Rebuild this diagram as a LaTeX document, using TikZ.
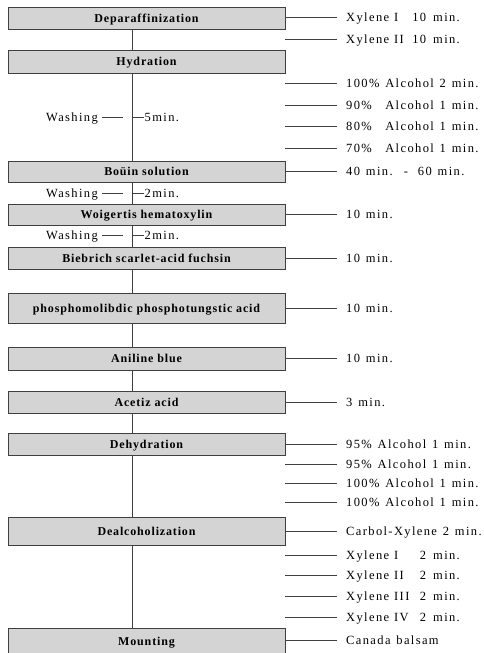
\documentclass[tikz,border=0pt]{standalone}
\usepackage{fontspec}
\setmainfont{Liberation Serif}
\newfontfamily\labfont[LetterSpace=11,WordSpace=1.3]{Liberation Serif}
\newfontfamily\hdfont[LetterSpace=7]{Liberation Serif}
\definecolor{boxgray}{RGB}{212,212,212}
\definecolor{linegray}{RGB}{64,64,64}
\newcommand\xyl[2]{Xylene\hspace{5pt}\makebox[22pt][l]{#1}\makebox[10pt][r]{#2}\hspace{7pt}min.}
\newcommand\pct[1]{\rlap{#1}\phantom{100\%}}
\begin{document}
\begin{tikzpicture}[x=1pt,y=-1pt,
  stepbox/.style={draw=linegray, fill=boxgray, line width=0.8pt, minimum width=277pt, inner sep=0pt,
    text height=8.2pt, text depth=0pt,
    font=\hdfont\bfseries\fontsize{12}{14}\selectfont},
  lab/.style={anchor=west, inner xsep=9pt, inner ysep=0pt, text height=8.4pt, text depth=0pt,
    font=\labfont\fontsize{12.5}{14}\selectfont},
  wlab/.style={inner xsep=4pt, inner ysep=0pt, text height=8.4pt, text depth=0pt,
    font=\labfont\fontsize{12.5}{14}\selectfont},
  conn/.style={draw=linegray, line width=0.8pt}]
\useasboundingbox (0,0) rectangle (483,653);
\coordinate (axis) at (132,0);
% boxes
\node[stepbox, minimum height=22pt] (dep) at (146.5,18) {Deparaffinization};
\node[stepbox, minimum height=23pt] (hyd) at (146.5,61.5) {Hydration};
\node[stepbox, minimum height=21pt] (bou) at (146.5,171.5) {Boüin solution};
\node[stepbox, minimum height=21pt] (woi) at (146.5,214.5) {Woigertis hematoxylin};
\node[stepbox, minimum height=22pt] (bie) at (146.5,258) {Biebrich scarlet-acid fuchsin};
\node[stepbox, minimum height=30pt] (pho) at (146.5,308) {phosphomolibdic phosphotungstic acid};
\node[stepbox, minimum height=23pt] (ani) at (146.5,358.5) {Aniline blue};
\node[stepbox, minimum height=22pt] (ace) at (146.5,402) {Acetiz acid};
\node[stepbox, minimum height=22pt] (deh) at (146.5,444) {Dehydration};
\node[stepbox, minimum height=28pt] (dea) at (146.5,531) {Dealcoholization};
\node[stepbox, minimum height=27pt] (mou) at (146.5,641.5) {Mounting};
% vertical connectors
\foreach \a/\b in {dep/hyd,hyd/bou,bou/woi,woi/bie,bie/pho,pho/ani,ani/ace,ace/deh,deh/dea,dea/mou}
  \draw[conn] (\a.south -| axis) -- (\b.north -| axis);
% washing labels
\node[wlab, anchor=east] (w1) at (102,117) {Washing};
\node[wlab, anchor=west, inner xsep=0.5pt] (t1) at (144,117) {5min.};
\node[wlab, anchor=east] (w2) at (102,193) {Washing};
\node[wlab, anchor=west, inner xsep=0.5pt] (t2) at (144,193) {2min.};
\node[wlab, anchor=east] (w3) at (102,235.5) {Washing};
\node[wlab, anchor=west, inner xsep=0.5pt] (t3) at (144,235.5) {2min.};
\foreach \w/\t in {w1/t1,w2/t2,w3/t3}{
  \draw[conn] (\w.east) -- ([xshift=-9pt]\w.east -| axis);
  \draw[conn] (\t.west -| axis) -- (\t.west);
}
% right labels
\node[lab] (l1) at (337,17) {\xyl{I}{10}};
\node[lab] (l2) at (337,39) {\xyl{II}{10}};
\node[lab] (l3) at (337,83) {100\% Alcohol 2 min.};
\node[lab] (l4) at (337,105) {\pct{90\%} Alcohol 1 min.};
\node[lab] (l5) at (337,126) {\pct{80\%} Alcohol 1 min.};
\node[lab] (l6) at (337,148) {\pct{70\%} Alcohol 1 min.};
\node[lab] (l7) at (337,171.5) {40 min.\hspace{4pt} - \hspace{4pt}60 min.};
\node[lab] (l8) at (337,214.5) {10 min.};
\node[lab] (l9) at (337,258) {10 min.};
\node[lab] (l10) at (337,308) {10 min.};
\node[lab] (l11) at (337,358.5) {10 min.};
\node[lab] (l12) at (337,402) {3 min.};
\node[lab] (l13) at (337,444) {95\% Alcohol 1 min.};
\node[lab] (l14) at (337,464) {95\% Alcohol 1 min.};
\node[lab] (l15) at (337,483) {100\% Alcohol 1 min.};
\node[lab] (l16) at (337,502) {100\% Alcohol 1 min.};
\node[lab] (l17) at (337,531) {Carbol-Xylene 2 min.};
\node[lab] (l18) at (337,555) {\xyl{I}{2}};
\node[lab] (l19) at (337,575) {\xyl{II}{2}};
\node[lab] (l20) at (337,596) {\xyl{III}{2}};
\node[lab] (l21) at (337,617) {\xyl{IV}{2}};
\node[lab] (l22) at (337,640) {Canada balsam};
% connectors from boxes
\foreach \b/\l in {dep/l1,dep/l2,hyd/l3,hyd/l4,hyd/l5,hyd/l6,bou/l7,woi/l8,bie/l9,pho/l10,ani/l11,ace/l12,
  deh/l13,deh/l14,deh/l15,deh/l16,dea/l17,dea/l18,dea/l19,dea/l20,dea/l21,mou/l22}
  \draw[conn] (\l.west -| \b.east) -- (\l.west);
\end{tikzpicture}
\end{document}
